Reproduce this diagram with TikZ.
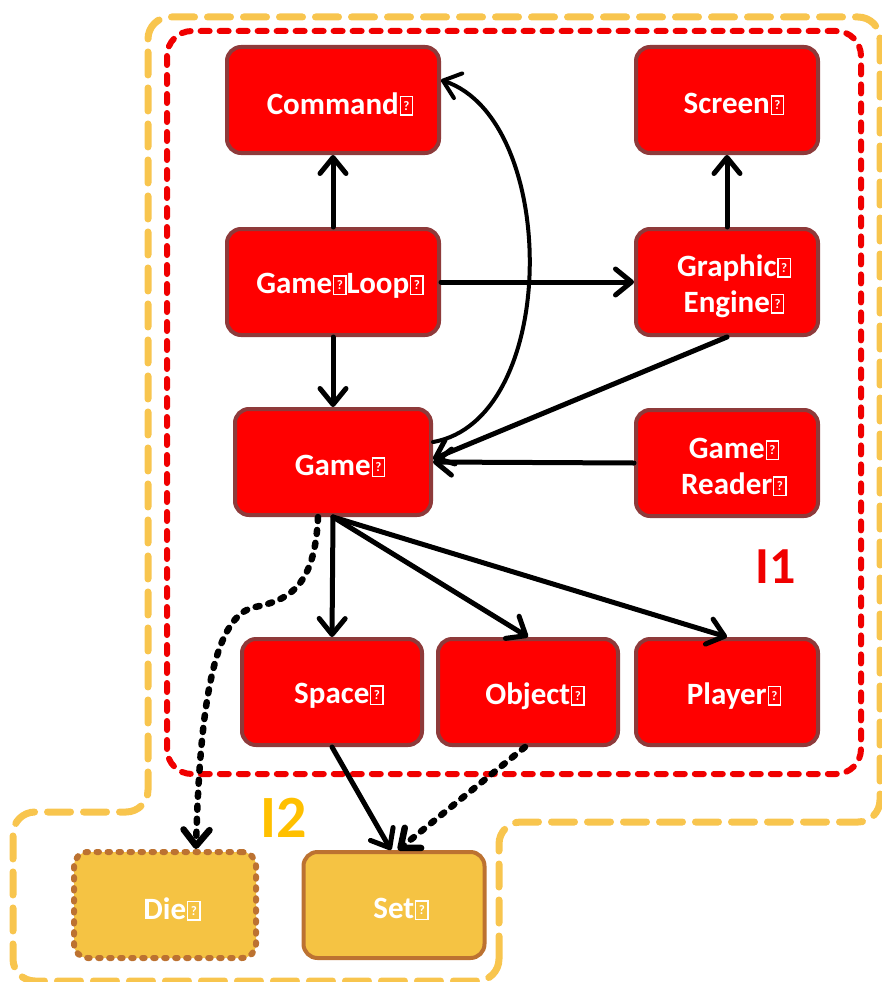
\documentclass[tikz,border=0pt]{standalone}
\usepackage{fontspec}
\setmainfont{Carlito}
\usetikzlibrary{arrows.meta,calc}
\definecolor{nodered}{HTML}{FF0000}
\definecolor{nodeborder}{HTML}{8E3A3A}
\definecolor{goldfill}{HTML}{F5C343}
\definecolor{goldborder}{HTML}{BC7231}
\definecolor{ionecol}{HTML}{F00000}
\definecolor{itwocol}{HTML}{FFC000}
\definecolor{itwoline}{HTML}{F8C54E}

\newcommand\tofu{\kern0.8pt{\fboxsep=0pt\fboxrule=1.3pt\fbox{\parbox[b][17pt][c]{11pt}{\centering\fontsize{13}{13}\selectfont ?}}}}
\newcommand\nodeline[1]{\hspace*{14pt}\raisebox{-4pt}[\height][\depth]{#1}}

\tikzset{
  box/.style={rectangle, rounded corners=14pt, draw=nodeborder, fill=nodered,
    line width=4pt, text=white, font=\fontsize{31}{36}\selectfont\bfseries,
    align=center, minimum height=106pt, inner sep=0pt},
  goldbox/.style={box, draw=goldborder, fill=goldfill},
  dotbox/.style={goldbox, line width=6pt, dash pattern=on 2.5pt off 8.5pt, line cap=round},
  conn/.style={line width=5pt, line cap=round,
    -{Straight Barb[length=16pt,width=26pt,line cap=round,line join=round]}},
  dconn/.style={conn, line width=6.5pt, dash pattern=on 4pt off 9pt},
  ioneline/.style={draw=ionecol, line width=6pt, dash pattern=on 9pt off 10pt, line cap=round},
  itwoline/.style={draw=itwoline, line width=7pt, dash pattern=on 23pt off 13pt, line cap=round},
  biglabel/.style={font=\bfseries, inner sep=0pt}
}

\begin{document}
\begin{tikzpicture}[x=1pt,y=-1pt]
\useasboundingbox (0,0) rectangle (882,982);

% regions
\draw[itwoline, rounded corners=22pt]
  (499,981) -- (499,822) -- (880,822) -- (880,17) -- (148,17) -- (148,812)
  -- (13,812) -- (13,981) -- cycle;
\draw[ioneline, rounded corners=25pt] (167,31) rectangle (861,774);

% nodes
\node[box, minimum width=212pt] (command) at (333,100) {\nodeline{Command\tofu}};
\node[box, minimum width=182pt] (screen) at (727,100) {\nodeline{Screen\tofu}};
\node[box, minimum width=212pt] (gameloop) at (333,282) {\nodeline{Game\tofu Loop\tofu}};
\node[box, minimum width=182pt] (graphic) at (727,282) {\nodeline{Graphic\tofu}\\\nodeline{Engine\tofu}};
\node[box, minimum width=196pt] (game) at (333,462) {\nodeline{Game\tofu}};
\node[box, minimum width=182pt] (reader) at (727,463) {\nodeline{Game\tofu}\\\nodeline{Reader\tofu}};
\node[box, minimum width=180pt] (space) at (332,692) {\nodeline{Space\tofu}};
\node[box, minimum width=180pt] (object) at (528,692) {\nodeline{Object\tofu}};
\node[box, minimum width=182pt] (player) at (727,692) {\nodeline{Player\tofu}};
\node[dotbox, minimum width=182pt] (die) at (165,905) {\nodeline{Die\tofu}};
\node[goldbox, minimum width=181pt] (set) at (394,905) {\nodeline{Set\tofu}};

% region labels
\node[biglabel, text=ionecol, font=\fontsize{52}{52}\selectfont\bfseries] (ione) at (776,567) {I1};
\node[biglabel, text=itwocol, font=\fontsize{60}{60}\selectfont\bfseries] (itwo) at (284,818) {I2};

% connectors
\draw[conn] (gameloop.north) -- (command.south);
\draw[conn] (gameloop.east) -- (graphic.west);
\draw[conn] (graphic.north) -- (screen.south);
\draw[conn] (gameloop.south) -- (game.north);
\draw[conn] (graphic.south) -- ([yshift=3pt]game.east);
\draw[conn] (reader.west) -- (game.east);
\draw[conn, line width=4pt] ([yshift=20pt]game.east) .. controls (560,420) and (560,120) .. ([yshift=20pt]command.east);
\draw[conn] (game.south) -- (space.north);
\draw[conn] (game.south) -- (object.north);
\draw[conn] (game.south) -- (player.north);
\draw[dconn] ([xshift=-15pt]game.south) .. controls (315,585) and (290,600) .. (255,607)
  .. controls (215,615) and (200,700) .. ([xshift=31pt]die.north);
\draw[conn] (space.south) -- ([xshift=-3pt]set.north);
\draw[dconn] ([xshift=-3pt]object.south) -- ([xshift=4pt]set.north);
\end{tikzpicture}
\end{document}
